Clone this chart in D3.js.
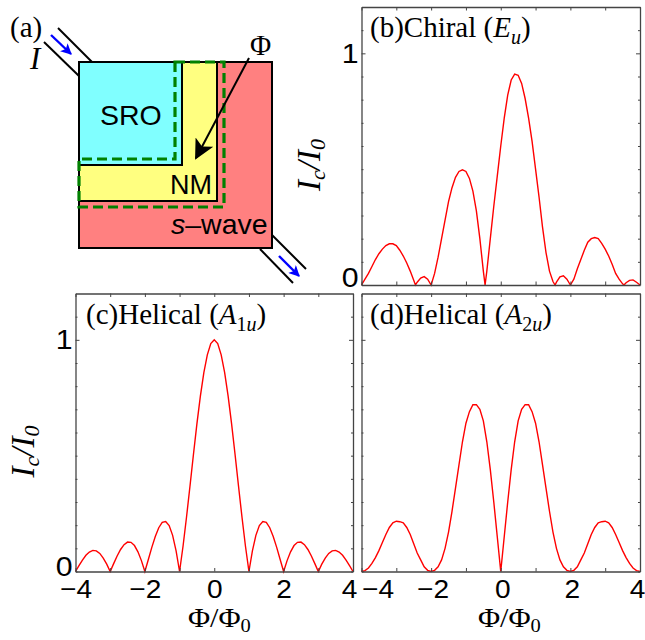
<!DOCTYPE html>
<html>
<head>
<meta charset="utf-8">
<script src="https://d3js.org/d3.v7.min.js"></script>
<style>
html, body { margin: 0; padding: 0; background: #fff; }
svg { display: block; }
.sans { font-family: "Liberation Sans", sans-serif; }
.serif { font-family: "Liberation Serif", serif; }
</style>
</head>
<body>
<svg id="chart" width="645" height="640"></svg>
<script>
// values
const fluxB = [-4,-3.9,-3.8,-3.7,-3.6,-3.5,-3.4,-3.3,-3.2,-3.1,-3,-2.9,-2.8,-2.7,-2.6,-2.5,-2.45,-2.4,-2.3,-2.2,-2.1,-2,
    -1.9,-1.8,-1.7,-1.6,-1.5,-1.4,-1.3,-1.2,-1.1,-1,-0.9,-0.8,-0.7,-0.6,-0.5,-0.45,
    -0.4,-0.3,-0.2,-0.1,0,0.1,0.2,0.3,0.4,0.5,0.6,0.7,0.8,0.9,1,1.1,1.2,1.3,1.4,1.5,1.56,
    1.6,1.7,1.8,1.9,2,2.1,2.2,2.3,2.4,2.5,2.6,2.7,2.8,2.9,3,3.1,3.2,3.3,3.4,3.5,3.54,3.6,3.7,3.8,3.9,4]
const currentB = [0,.025,.05,.08,.11,.135,.155,.17,.178,.178,.17,.15,.125,.095,.06,.02,0,.012,.03,.036,.025,0,
    .05,.12,.2,.28,.36,.42,.465,.49,.497,.49,.46,.405,.32,.2,.06,0,
    .06,.2,.34,.47,.6,.72,.82,.885,.91,.905,.87,.805,.72,.62,.5,.38,.25,.14,.06,.015,0,
    .012,.035,.04,.025,0,.025,.07,.11,.15,.185,.2,.205,.2,.18,.155,.125,.09,.05,.025,.005,0,.01,.02,.022,.012,0]

const fluxPos = [0,.1,.2,.3,.4,.5,.6,.7,.8,.9,1,1.1,1.2,1.3,1.4,1.5,1.6,1.7,1.8,1.9,2,
    2.1,2.2,2.3,2.4,2.5,2.6,2.7,2.8,2.9,3,3.1,3.2,3.3,3.4,3.5,3.6,3.7,3.8,3.9,4]
const currentC = [1,.984,.935,.858,.757,.637,.505,.368,.234,.109,0,.089,.156,.198,.216,.212,.189,.151,.104,.052,0,
    .047,.085,.112,.126,.127,.116,.095,.067,.034,0,.032,.058,.078,.089,.091,.084,.07,.049,.025,0]
const currentD = [0,.15,.3,.44,.56,.65,.7,.72,.72,.69,.64,.56,.46,.36,.26,.17,.1,.05,.02,.005,0,
    .005,.02,.05,.08,.12,.16,.19,.21,.215,.217,.21,.19,.16,.125,.09,.06,.035,.015,.004,0]

const xTicks = [-4,-3,-2,-1,0,1,2,3,4]
const xLabels = [-4,-2,0,2,4]
const yTicks = [0,.1,.2,.3,.4,.5,.6,.7,.8,.9,1,1.1]
const yLabels = [0,1]

const svg = d3.select('#chart')
const RED = '#ff0000', FRAME = '#444'
const WIDE = 1.08  // the reference's digits and Phi are a little wider than these fonts

// mirror the positive half for the symmetric panels
function mirrored(ys) {
    const pts = fluxPos.map((x, i) => [x, ys[i]])
    return pts.slice(1).reverse().map(d => [-d[0], d[1]]).concat(pts)
}

function drawPanel(o) {
    const x = d3.scaleLinear().domain([-4, 4]).range([o.left, o.right])
    const y = d3.scaleLinear().domain([0, 1.2]).range([o.bottom, o.top])
    const g = svg.append('g')

    g.append('path')
        .datum(o.points)
        .attr('fill', 'none')
        .attr('stroke', RED)
        .attr('stroke-width', 1.4)
        .attr('d', d3.line().x(d => x(d[0])).y(d => y(d[1])))

    const styleAxis = sel => {
        sel.selectAll('.domain').attr('stroke', FRAME).attr('stroke-width', 1.3)
        sel.selectAll('line').attr('stroke', FRAME).attr('stroke-width', 1)
        sel.selectAll('text').attr('fill', '#000')
    }
    const xFmt = d => (o.xShift && xLabels.includes(d)) ? (d < 0 ? '\u2212' + (-d) : d) : ''
    g.append('g').attr('transform', `translate(0,${o.bottom})`)
        .call(d3.axisBottom(x).tickValues(xTicks).tickSizeInner(-3.5).tickSizeOuter(0).tickPadding(7).tickFormat(xFmt))
        .call(styleAxis)
        .call(s => s.selectAll('text').attr('class', 'sans').attr('font-size', 26).attr('font-family', null)
            .attr('dy', '0.75em')
            .attr('transform', d => `translate(${o.xShift ? (o.xShift[d] || 0) : 0},0) scale(${WIDE},1)`))
    g.append('g').attr('transform', `translate(0,${o.top})`)
        .call(d3.axisTop(x).tickValues(xTicks).tickSizeInner(-3.5).tickSizeOuter(0).tickFormat(''))
        .call(styleAxis)
    const yFmt = d => (o.zeroRaise !== undefined && yLabels.includes(d)) ? d : ''
    g.append('g').attr('transform', `translate(${o.left},0)`)
        .call(d3.axisLeft(y).tickValues(yTicks).tickSizeInner(-2).tickSizeOuter(0).tickPadding(0).tickFormat(yFmt))
        .call(styleAxis)
        .call(s => s.selectAll('.tick').filter(d => d === 1).select('line').attr('x2', 4))
        .call(s => s.selectAll('text').attr('class', 'sans').attr('font-size', 28).attr('font-family', null)
            .attr('x', 0)
            .attr('transform', `translate(-3,0) scale(${WIDE},1)`))
        .call(s => s.selectAll('.tick').filter(d => d === 0).select('text').attr('y', -(o.zeroRaise || 0)))
    g.append('g').attr('transform', `translate(${o.right},0)`)
        .call(d3.axisRight(y).tickValues(yTicks).tickSizeInner(-2).tickSizeOuter(0).tickFormat(''))
        .call(styleAxis)
        .call(s => s.selectAll('.tick').filter(d => d === 1).select('line').attr('x2', -4))

    // panel title, real text with italics and subscript
    const t = g.append('text').attr('class', 'serif').attr('font-size', 29)
        .attr('x', o.titleX).attr('y', o.top + 30)
    t.append('tspan').text(o.title)
    t.append('tspan').attr('font-style', 'italic').text(o.sym)
    const sub = t.append('tspan').attr('font-size', 20).attr('dy', 7)
    sub.append('tspan').text(o.subNum)
    sub.append('tspan').attr('font-style', 'italic').text('u')
    t.append('tspan').attr('dy', -7).text(')')

    if (o.yTitle) {
        const yt = g.append('text').attr('class', 'serif').attr('font-size', 33).attr('font-style', 'italic')
            .attr('text-anchor', 'middle')
            .attr('transform', `translate(${o.left - 41.5},${(o.bottom + o.top) / 2 + 19})rotate(-90)`)
        yt.append('tspan').text('I')
        yt.append('tspan').attr('font-size', 22).attr('dy', 5).text('c')
        yt.append('tspan').attr('dy', -5).text('/I')
        yt.append('tspan').attr('font-size', 22).attr('dy', 5).text('0')
    }
    if (o.xTitleX) {
        const xt = g.append('text').attr('class', 'serif').attr('font-size', 28)
            .attr('transform', `translate(${o.xTitleX},${o.bottom + 55}) scale(${WIDE},1)`)
        xt.append('tspan').text('\u03A6/\u03A6')
        xt.append('tspan').attr('font-size', 19).attr('dy', 5).text('0')
    }
}

drawPanel({left: 361.5, right: 640, top: 7, bottom: 285, title: '(b)Chiral (', sym: 'E', subNum: '', titleX: 370,
    points: fluxB.map((d, i) => [d, currentB[i]]), yTitle: true, zeroRaise: 7})
drawPanel({left: 75.5, right: 353, top: 293.5, bottom: 571.5, title: '(c)Helical (', sym: 'A', subNum: '1', titleX: 86,
    points: mirrored(currentC), yTitle: true, xTitleX: 188, xShift: {4: -4}, zeroRaise: 4.5})
drawPanel({left: 361.5, right: 640, top: 293.5, bottom: 571.5, title: '(d)Helical (', sym: 'A', subNum: '2', titleX: 370,
    points: mirrored(currentD), xTitleX: 478, xShift: {'-4': 16, '-2': 1.5, 0: 1.5, 2: 1.5, 4: -3}})

// ---- schematic (a)
const a = svg.append('g')
const defs = svg.append('defs')
const marker = (id, col) => defs.append('marker').attr('id', id)
    .attr('viewBox', '0 0 10 10').attr('refX', 9).attr('refY', 5)
    .attr('markerUnits', 'userSpaceOnUse').attr('orient', 'auto')
    .attr('markerWidth', id === 'big' ? 24 : 13).attr('markerHeight', id === 'big' ? 20 : 11)
    .append('path').attr('d', 'M0,0L10,5L0,10L2.5,5Z').attr('fill', col)
marker('big', '#000')
marker('blue', '#0000ff')

const seg = (x1, y1, x2, y2, col, w) => a.append('line')
    .attr('x1', x1).attr('y1', y1).attr('x2', x2).attr('y2', y2)
    .attr('stroke', col).attr('stroke-width', w)

// leads
seg(44, 42, 79, 76, '#000', 2)
seg(58, 28, 93, 63, '#000', 2)
seg(272, 235, 306, 269, '#000', 2)
seg(260, 249, 293, 283, '#000', 2)
seg(51, 35, 71, 54, '#0000ff', 2.4).attr('marker-end', 'url(#blue)')
seg(279, 256, 299, 276, '#0000ff', 2.4).attr('marker-end', 'url(#blue)')

const box = (x, y, w, h, col) => a.append('rect')
    .attr('x', x).attr('y', y).attr('width', w).attr('height', h)
    .attr('fill', col).attr('stroke', '#000').attr('stroke-width', 2)
box(79, 62, 193, 186, '#ff8080')
box(79, 62, 138, 139, '#ffff80')
box(79, 62, 103, 103, '#80ffff')

a.append('path')
    .attr('d', 'M175,62H224V207H79V159H175Z')
    .attr('fill', 'none').attr('stroke', '#008000').attr('stroke-width', 3.2)
    .attr('stroke-dasharray', '10 5')

seg(249, 58, 196, 158, '#000', 2).attr('marker-end', 'url(#big)')

const label = (txt, x, y, cls, size) => a.append('text').attr('class', cls)
    .attr('x', x).attr('y', y).attr('font-size', size).text(txt)
label('SRO', 100, 125, 'sans', 28.5)
label('NM', 170, 194, 'sans', 27)
const sw = label('', 171, 234, 'sans', 28.5)
sw.append('tspan').attr('font-style', 'italic').text('s')
sw.append('tspan').text('\u2013wave')
label('(a)', 10, 37, 'serif', 29)
label('I', 30, 69, 'serif', 31).attr('font-style', 'italic')
label('\u03A6', 250, 55, 'serif', 29)
</script>
</body>
</html>
